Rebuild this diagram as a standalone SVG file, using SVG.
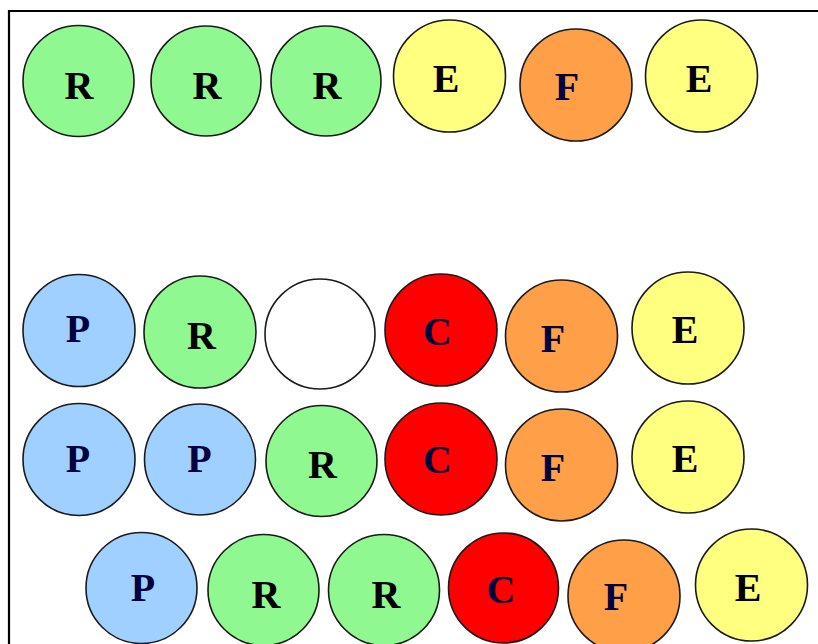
<svg xmlns="http://www.w3.org/2000/svg" width="818" height="644" viewBox="0 0 818 644">
<style>
circle{stroke:#1a1a1a;stroke-width:1.6}
.g{fill:#90f890}.b{fill:#a0d0ff}.y{fill:#ffff80}.o{fill:#ffa048}.r{fill:#ff0000}.w{fill:#ffffff}
text{font-family:"Liberation Serif","Times New Roman",serif;font-weight:bold;font-size:40px;text-anchor:middle}
.k{fill:#000000}.n{fill:#000040}
</style>
<rect width="818" height="644" fill="#ffffff"/>
<path d="M9,644 V11 H818" fill="none" stroke="#000" stroke-width="2.2"/>
<g id="connectors"/>
<g id="r1n1"><circle class="g" cx="78.5" cy="81" r="55.5"/><text class="k" x="79" y="99">R</text></g>
<g id="r1n2"><circle class="g" cx="206" cy="81" r="55"/><text class="k" x="207" y="99">R</text></g>
<g id="r1n3"><circle class="g" cx="326" cy="81" r="55"/><text class="k" x="327" y="99">R</text></g>
<g id="r1n4"><circle class="y" cx="449.5" cy="76" r="56"/><text class="k" x="446" y="92">E</text></g>
<g id="r1n5"><circle class="o" cx="576" cy="85" r="56"/><text class="n" x="567" y="100">F</text></g>
<g id="r1n6"><circle class="y" cx="701.5" cy="76" r="56"/><text class="k" x="699" y="92">E</text></g>

<g id="r2n1"><circle class="b" cx="79" cy="330.5" r="56"/><text class="n" x="78" y="342">P</text></g>
<g id="r2n2"><circle class="g" cx="200" cy="332" r="56"/><text class="k" x="201.5" y="349">R</text></g>
<g id="r2n3"><circle class="w" cx="320" cy="334" r="55"/></g>
<g id="r2n4"><circle class="r" cx="441" cy="330" r="56"/><text class="n" x="437.5" y="345">C</text></g>
<g id="r2n5"><circle class="o" cx="561.5" cy="336" r="56"/><text class="n" x="553" y="352">F</text></g>
<g id="r2n6"><circle class="y" cx="688" cy="328" r="56"/><text class="k" x="685" y="343">E</text></g>

<g id="r3n1"><circle class="b" cx="79" cy="459.5" r="56"/><text class="n" x="78" y="472">P</text></g>
<g id="r3n2"><circle class="b" cx="200" cy="459.5" r="55.5"/><text class="n" x="199.5" y="472">P</text></g>
<g id="r3n3"><circle class="g" cx="321.5" cy="461" r="55.5"/><text class="k" x="322.5" y="478">R</text></g>
<g id="r3n4"><circle class="r" cx="441" cy="459" r="56"/><text class="n" x="437.5" y="473">C</text></g>
<g id="r3n5"><circle class="o" cx="561.5" cy="465" r="56"/><text class="n" x="553" y="481">F</text></g>
<g id="r3n6"><circle class="y" cx="688" cy="457" r="56"/><text class="k" x="685" y="472">E</text></g>

<g id="r4n1"><circle class="b" cx="141.5" cy="588" r="55.5"/><text class="n" x="143" y="601">P</text></g>
<g id="r4n2"><circle class="g" cx="263.5" cy="590" r="55.5"/><text class="k" x="266" y="608">R</text></g>
<g id="r4n3"><circle class="g" cx="384" cy="590" r="55.5"/><text class="k" x="386" y="608">R</text></g>
<g id="r4n4"><circle class="r" cx="503.5" cy="588" r="55"/><text class="n" x="501" y="603">C</text></g>
<g id="r4n5"><circle class="o" cx="624" cy="596" r="56"/><text class="n" x="616" y="610">F</text></g>
<g id="r4n6"><circle class="y" cx="751.5" cy="585" r="56"/><text class="k" x="748" y="601">E</text></g>
</svg>
